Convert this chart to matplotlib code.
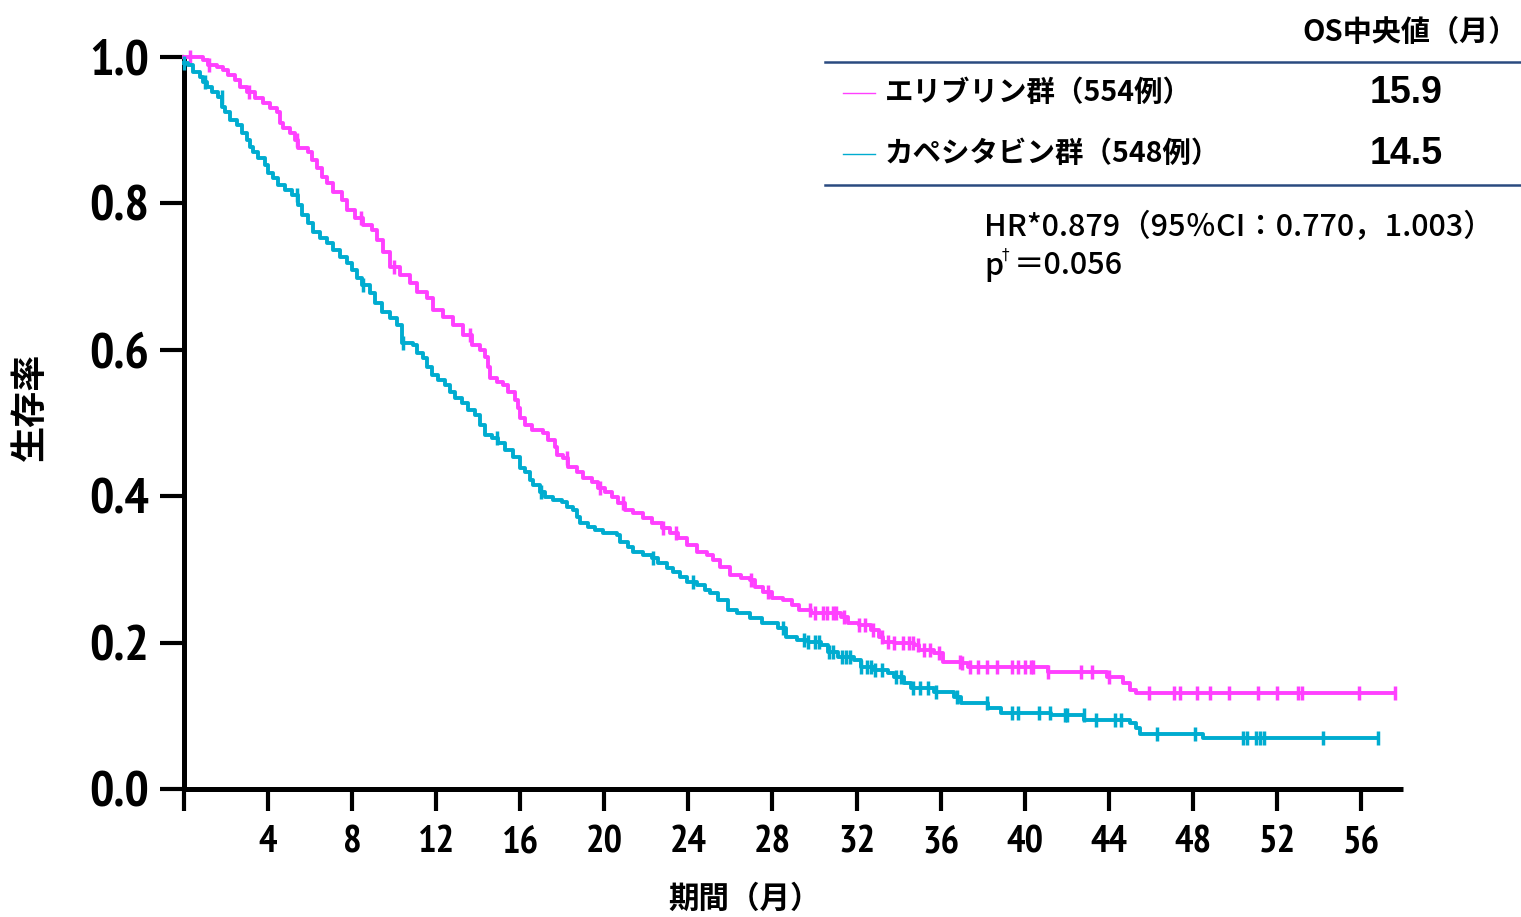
import numpy as np
import matplotlib
matplotlib.use("Agg")
import matplotlib.pyplot as plt
from matplotlib import font_manager as fm

plt.rcParams['font.family'] = ['Noto Sans CJK JP', 'DejaVu Sans']

# Kaplan-Meier corners (months, survival)
eri_t = [0, 0.67, 0.90, 1.14, 1.57, 1.86, 2.10, 2.43, 2.67, 3.0, 3.38, 3.76, 4.10, 4.43, 4.57,
         4.71, 5.05, 5.29, 5.43, 5.90, 6.10, 6.33, 6.57, 6.81, 7.10, 7.52, 7.76, 8.14, 8.52,
         8.95, 9.19, 9.48, 9.81, 10.29, 10.76, 11.1, 11.57, 11.86, 12.33, 12.81, 13.29,
         13.71, 14.10, 14.33, 14.48, 14.57, 14.90, 15.19, 15.43, 15.76, 15.90, 16.0, 16.24,
         16.57, 17.10, 17.33, 17.67, 17.76, 18.05, 18.29, 18.71, 19.0, 19.43, 19.71, 20.05,
         20.38, 20.67, 21.0, 21.38, 21.86, 22.29, 22.76, 23.14, 23.52, 23.95, 24.43, 24.90,
         25.19, 25.52, 26.0, 26.48, 26.95, 27.19, 27.57, 28.0, 28.52, 28.95, 29.24, 29.81,
         31.24, 31.57, 32.10, 32.67, 33.05, 33.24, 33.76, 34.71, 34.95, 35.67, 36.10, 36.95,
         37.29, 41.1, 43.9, 44.7, 45.0, 45.3, 57.6]
eri_s = [1.0, 1.0, 0.996, 0.989, 0.986, 0.982, 0.975, 0.969, 0.959, 0.952, 0.944, 0.937,
         0.930, 0.925, 0.910, 0.903, 0.896, 0.887, 0.876, 0.870, 0.859, 0.848, 0.836, 0.828,
         0.816, 0.805, 0.791, 0.780, 0.770, 0.764, 0.750, 0.734, 0.713, 0.702, 0.691, 0.679,
         0.671, 0.654, 0.645, 0.634, 0.620, 0.607, 0.600, 0.590, 0.577, 0.561, 0.556, 0.552,
         0.542, 0.531, 0.520, 0.507, 0.497, 0.490, 0.486, 0.477, 0.467, 0.456, 0.452, 0.440,
         0.433, 0.425, 0.419, 0.411, 0.406, 0.399, 0.391, 0.381, 0.377, 0.370, 0.363, 0.357,
         0.350, 0.343, 0.333, 0.324, 0.320, 0.313, 0.303, 0.292, 0.288, 0.286, 0.276, 0.269,
         0.261, 0.258, 0.251, 0.245, 0.240, 0.235, 0.227, 0.224, 0.217, 0.208, 0.201, 0.199,
         0.197, 0.190, 0.186, 0.173, 0.172, 0.167, 0.160, 0.153, 0.145, 0.135, 0.131, 0.131]
eri_cens = [0.3, 1.2, 3.1, 5.4, 8.4, 10.0, 13.6, 18.2, 19.8, 20.9, 22.8, 23.4, 27.0, 27.8,
            29.8, 30.0, 30.4, 30.6, 30.9, 31.0, 31.4, 32.1, 32.4, 32.8, 33.2, 33.5, 33.8,
            34.2, 34.5, 34.7, 34.9, 35.2, 35.5, 35.9, 36.9, 37.0, 37.4, 37.8, 38.2, 38.7,
            39.4, 39.7, 40.0, 40.3, 40.4, 41.1, 42.7, 43.2, 44.0, 45.9, 47.1, 47.4, 48.2,
            48.8, 49.7, 51.1, 52.0, 53.0, 53.2, 55.9, 57.6]

cap_t = [0, 0.19, 0.43, 0.76, 0.90, 1.10, 1.33, 1.62, 1.81, 1.95, 2.19, 2.52, 2.76, 3.0,
         3.14, 3.29, 3.52, 3.86, 4.0, 4.24, 4.48, 4.81, 5.14, 5.43, 5.62, 5.90, 6.14, 6.48,
         6.81, 7.10, 7.43, 7.76, 8.0, 8.24, 8.48, 8.86, 9.10, 9.43, 9.81, 10.14, 10.38, 10.90,
         11.10, 11.38, 11.57, 11.81, 12.10, 12.43, 12.67, 12.90, 13.24, 13.52, 13.86, 14.10,
         14.33, 14.67, 14.95, 15.29, 15.67, 16.0, 16.24, 16.48, 16.62, 16.95, 17.19, 17.57,
         18.0, 18.24, 18.52, 18.71, 18.86, 19.24, 19.57, 19.95, 20.62, 20.76, 21.14, 21.38,
         21.86, 22.29, 22.57, 23.0, 23.29, 23.62, 23.95, 24.43, 24.81, 25.05, 25.43, 25.90,
         26.33, 26.95, 27.52, 28.24, 28.62, 29.19, 29.67, 30.29, 30.62, 31.10, 31.86, 32.19,
         32.81, 33.48, 33.76, 34.24, 34.57, 35.67, 36.62, 36.95, 37.76, 38.24, 38.86, 40.43,
         41.24, 42.81, 45.0, 45.3, 45.5, 48.5, 56.8]
cap_s = [0.992, 0.989, 0.980, 0.973, 0.966, 0.959, 0.952, 0.945, 0.932, 0.925, 0.914, 0.907,
         0.896, 0.887, 0.877, 0.870, 0.862, 0.852, 0.842, 0.835, 0.825, 0.818, 0.811, 0.798,
         0.784, 0.773, 0.761, 0.753, 0.746, 0.736, 0.727, 0.719, 0.709, 0.698, 0.689, 0.678,
         0.664, 0.652, 0.643, 0.634, 0.609, 0.607, 0.596, 0.589, 0.577, 0.566, 0.559, 0.552,
         0.542, 0.534, 0.527, 0.518, 0.511, 0.497, 0.484, 0.480, 0.473, 0.463, 0.454, 0.439,
         0.433, 0.422, 0.415, 0.406, 0.399, 0.395, 0.392, 0.385, 0.381, 0.372, 0.363, 0.358,
         0.354, 0.350, 0.347, 0.337, 0.331, 0.324, 0.320, 0.316, 0.309, 0.302, 0.296, 0.290,
         0.283, 0.279, 0.272, 0.268, 0.258, 0.245, 0.240, 0.234, 0.227, 0.220, 0.208, 0.204,
         0.201, 0.197, 0.187, 0.180, 0.176, 0.167, 0.163, 0.158, 0.153, 0.145, 0.138, 0.133,
         0.126, 0.117, 0.117, 0.111, 0.104, 0.104, 0.101, 0.094, 0.090, 0.083, 0.075, 0.070,
         0.070]
cap_cens = [0.0, 1.0, 1.8, 5.4, 8.5, 10.4, 14.9, 17.0, 22.3, 24.2, 28.5, 29.5, 29.7, 30.0,
            30.2, 30.7, 30.9, 31.3, 31.5, 31.7, 32.2, 32.5, 32.7, 32.9, 33.2, 33.9, 34.1,
            34.7, 35.0, 35.4, 35.8, 36.8, 38.2, 39.4, 39.7, 40.7, 41.2, 41.9, 42.0, 42.8,
            43.4, 44.3, 44.6, 46.3, 48.1, 50.4, 50.6, 51.0, 51.2, 51.4, 54.2, 56.8]

x_ticks = [0, 4, 8, 12, 16, 20, 24, 28, 32, 36, 40, 44, 48, 52, 56]
y_ticks = [0.0, 0.2, 0.4, 0.6, 0.8, 1.0]

magenta = '#ff40ff'
cyan = '#00acd0'
navy = '#2a4a80'


# condensed bold face for the numbers, if one is installed
def pick_narrow():
    best = None
    for f in fm.fontManager.ttflist:
        tag = (f.name + ' ' + f.fname).lower()
        narrow = 'narrow' in tag or 'condensed' in tag or f.stretch in ('condensed', 'semi-condensed')
        if not narrow:
            continue
        bold = f.weight in ('bold', 700, 'heavy', 800) or 'bold' in f.fname.lower()
        italic = f.style != 'normal' or 'italic' in f.fname.lower() or 'oblique' in f.fname.lower()
        if italic:
            continue
        score = (2 if bold else 0) + (1 if 'narrow' in tag else 0)
        if best is None or score > best[0]:
            best = (score, f.fname)
    return best[1] if best else None


narrow_file = pick_narrow()


def num_font(size):
    if narrow_file:
        return fm.FontProperties(fname=narrow_file, size=size)
    return fm.FontProperties(family='Liberation Sans', weight='bold', size=size * 0.85)


fig = plt.figure(figsize=(15.21, 9.17), dpi=100)
ax = fig.add_axes([184/1521, 1-789/917, (1403-184)/1521, (789-57)/917])


def surv_at(t, s, times):
    idx = np.searchsorted(t, times, side='right') - 1
    return np.array(s)[np.clip(idx, 0, len(s)-1)]


for t, s, c, col in [(eri_t, eri_s, eri_cens, magenta), (cap_t, cap_s, cap_cens, cyan)]:
    ax.step(t, s, where='post', color=col, lw=2.8, clip_on=False, zorder=3)
    ax.plot(c, surv_at(t, s, c), ls='none', marker='|', ms=10, mew=2.5, color=col,
            clip_on=False, zorder=3)

ax.set_xlim(0, 58)
ax.set_ylim(0, 1.0)
for side in ['top', 'right']:
    ax.spines[side].set_visible(False)
for side in ['left', 'bottom']:
    ax.spines[side].set_linewidth(3.6)
    ax.spines[side].set_capstyle('butt')

ax.set_xticks(x_ticks)
ax.set_xticklabels([''] + [str(v) for v in x_ticks[1:]])
ax.set_yticks(y_ticks)
ax.set_yticklabels(['%.1f' % v for v in y_ticks])
ax.tick_params(axis='x', length=16, width=3, pad=10, direction='out')
ax.tick_params(axis='y', length=17, width=3, pad=8, direction='out')
for lab in ax.get_xticklabels():
    lab.set_fontproperties(num_font(28))
for lab in ax.get_yticklabels():
    lab.set_fontproperties(num_font(37))

fig.text(30/1521, 1-407/917, '生存率', rotation=90, ha='center', va='center',
         fontsize=26, fontweight='bold')
fig.text(745/1521, 1-899/917, '期間（月）', ha='center', va='center',
         fontsize=22, fontweight='bold')

# legend table, top right
fig.text(1410/1521, 1-32/917, 'OS中央値（月）', ha='center', va='center',
         fontsize=21, fontweight='bold')
fig.add_artist(plt.Line2D([825/1521, 1521/1521], [1-62/917, 1-62/917], color=navy, lw=1.8))
fig.add_artist(plt.Line2D([825/1521, 1521/1521], [1-185/917, 1-185/917], color=navy, lw=1.8))
rows = [('エリブリン群（554例）', '15.9', magenta, 93),
        ('カペシタビン群（548例）', '14.5', cyan, 154)]
for name, med, col, py in rows:
    yy = 1 - py/917
    fig.add_artist(plt.Line2D([843/1521, 875/1521], [yy, yy], color=col, lw=1))
    fig.text(885/1521, yy, name, ha='left', va='center', fontsize=20.5, fontweight='bold')
    fig.text(1406/1521, yy, med, ha='center', va='center', fontsize=27,
             family='Liberation Sans', fontweight='bold')

fig.text(984/1521, 1-228/917, 'HR*0.879（95％CI：0.770，1.003）', ha='left', va='center',
         fontsize=22, fontweight='medium')
fig.text(984/1521, 1-266/917, 'p', ha='left', va='center', fontsize=22, fontweight='medium')
fig.text(1002/1521, 1-255/917, '†', ha='left', va='center', fontsize=11,
         family='DejaVu Sans')
fig.text(1014/1521, 1-266/917, '＝0.056', ha='left', va='center', fontsize=22,
         fontweight='medium')

fig.savefig('out.png', dpi=100)
